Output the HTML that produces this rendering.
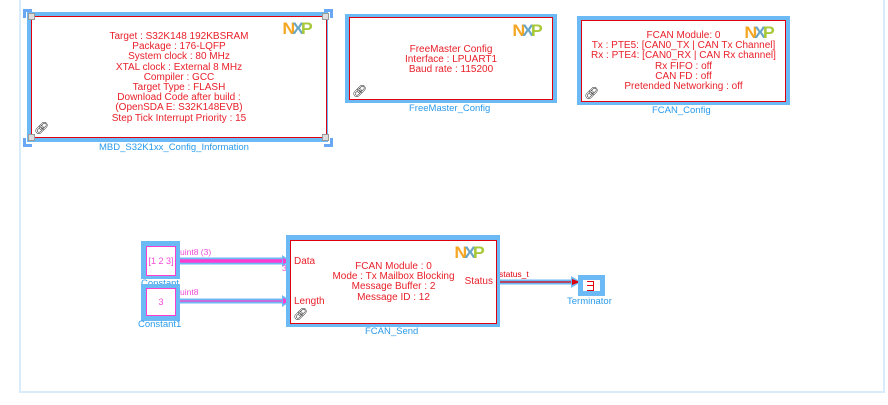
<!DOCTYPE html>
<html><head><meta charset="utf-8"><style>
body{margin:0;width:888px;height:405px;background:#fff;position:relative;overflow:hidden;font-family:"Liberation Sans",sans-serif}
.a{position:absolute}
.blk{position:absolute;background:#6cbaf5}
.in{position:absolute;background:#fff;border:1px solid #e0000d;box-sizing:border-box}
.txt{position:absolute;left:0;right:0;text-align:center;color:#e8202a;font-size:10px;line-height:10.2px}
.lbl{position:absolute;color:#2a9bea;font-size:9.5px;white-space:nowrap}
.nxp{position:absolute;font-weight:bold;font-size:17px;letter-spacing:-3px;line-height:14px;transform:scaleX(1.05)}
.nxp .n{color:#f5a623}.nxp .x{color:#6aa6c6}.nxp .p{color:#a8c93a}
.lk{position:absolute;font-size:12px;color:#222;line-height:12px}
.h{position:absolute;width:5px;height:5px;border:1px solid #999;background:#ddd}
</style></head><body>
<div class="a" style="left:19px;top:0;width:866px;height:393px;border-left:2px solid #d9ecfb;border-right:2px solid #d9ecfb;border-bottom:2px solid #d9ecfb;box-sizing:border-box"></div>

<!-- block1 -->
<div class="a" style="left:23px;top:9px;width:6px;height:6px;border-left:3px solid #6aa8f5;border-top:3px solid #6aa8f5"></div>
<div class="a" style="left:324px;top:9px;width:6px;height:6px;border-right:3px solid #6aa8f5;border-top:3px solid #6aa8f5"></div>
<div class="a" style="left:23px;top:138px;width:6px;height:6px;border-left:3px solid #6aa8f5;border-bottom:3px solid #6aa8f5"></div>
<div class="a" style="left:324px;top:138px;width:6px;height:6px;border-right:3px solid #6aa8f5;border-bottom:3px solid #6aa8f5"></div>
<div class="blk" style="left:27px;top:12px;width:301px;height:130px"></div>
<div class="in" style="left:31px;top:16px;width:296px;height:122px">
<div class="nxp" style="left:251px;top:5px"><span class="n">N</span><span class="x">X</span><span class="p">P</span></div>
<div class="txt" style="top:15px">Target : S32K148 192KBSRAM<br>Package : 176-LQFP<br>System clock : 80 MHz<br>XTAL clock : External 8 MHz<br>Compiler : GCC<br>Target Type : FLASH<br>Download Code after build :<br>(OpenSDA E: S32K148EVB)<br>Step Tick Interrupt Priority : 15</div>
<div class="lk" style="left:2px;top:105px">&#x1F517;&#xFE0E;</div>
</div>
<div class="h" style="left:28px;top:13px"></div><div class="h" style="left:322px;top:13px"></div>
<div class="h" style="left:28px;top:134px"></div><div class="h" style="left:322px;top:134px"></div>
<div class="lbl" style="left:99px;top:142px">MBD_S32K1xx_Config_Information</div>

<!-- block2 -->
<div class="blk" style="left:345px;top:14px;width:212px;height:89px"></div>
<div class="in" style="left:349px;top:17px;width:204px;height:83px">
<div class="nxp" style="left:163px;top:6px"><span class="n">N</span><span class="x">X</span><span class="p">P</span></div>
<div class="txt" style="top:27px">FreeMaster Config<br>Interface : LPUART1<br>Baud rate : 115200</div>
<div class="lk" style="left:2px;top:67px">&#x1F517;&#xFE0E;</div>
</div>
<div class="lbl" style="left:409px;top:103px">FreeMaster_Config</div>

<!-- block3 -->
<div class="blk" style="left:577px;top:16px;width:213px;height:89px"></div>
<div class="in" style="left:581px;top:20px;width:205px;height:82px">
<div class="nxp" style="left:163px;top:5px"><span class="n">N</span><span class="x">X</span><span class="p">P</span></div>
<div class="txt" style="top:10px">FCAN Module: 0<br>Tx : PTE5: [CAN0_TX | CAN Tx Channel]<br>Rx : PTE4: [CAN0_RX | CAN Rx channel]<br>Rx FIFO : off<br>CAN FD : off<br>Pretended Networking : off</div>
<div class="lk" style="left:2px;top:66px">&#x1F517;&#xFE0E;</div>
</div>
<div class="lbl" style="left:652px;top:105px">FCAN_Config</div>

<!-- lines -->
<svg class="a" style="left:0;top:0" width="888" height="405">
<line x1="178" y1="261" x2="284" y2="261" stroke="#6cbaf5" stroke-width="7"/>
<line x1="178" y1="261" x2="284" y2="261" stroke="#ff3ccf" stroke-width="3.5"/>
<polygon points="282,255 291,261 282,267" fill="#6cbaf5"/><polygon points="283,258 290,261 283,264" fill="#ff3ccf"/>
<line x1="178" y1="301" x2="284" y2="301" stroke="#6cbaf5" stroke-width="5"/>
<line x1="178" y1="301" x2="284" y2="301" stroke="#ff3ccf" stroke-width="1.2"/>
<polygon points="282,295 291,301 282,307" fill="#6cbaf5"/><polygon points="283,298 290,301 283,304" fill="#ff3ccf"/>
<line x1="497" y1="282" x2="572" y2="282" stroke="#6cbaf5" stroke-width="5"/>
<line x1="497" y1="282" x2="572" y2="282" stroke="#e0000d" stroke-width="1.2"/>
<polygon points="571,276 581,282 571,288" fill="#6cbaf5"/><polygon points="572,279 580,282 572,285" fill="#e0000d"/>
</svg>
<div class="a" style="left:180px;top:247px;color:#f04ad6;font-size:8.5px">uint8 (3)</div>
<div class="a" style="left:180px;top:287px;color:#f04ad6;font-size:8.5px">uint8</div>
<div class="a" style="left:282px;top:263px;color:#f04ad6;font-size:8.5px">3</div>
<div class="a" style="left:499px;top:269px;color:#e0000d;font-size:8.5px">status_t</div>

<!-- constants -->
<div class="blk" style="left:141px;top:241px;width:39px;height:38px"></div>
<div class="a" style="left:146px;top:246px;width:30px;height:30px;background:#fff;border:1px solid #ff3ccf;box-sizing:border-box;color:#f04ad6;font-size:9px;text-align:center;line-height:28px">[1 2 3]</div>
<div class="lbl" style="left:141px;top:278px">Constant</div>
<div class="blk" style="left:141px;top:284px;width:39px;height:37px"></div>
<div class="a" style="left:146px;top:288px;width:30px;height:28px;background:#fff;border:1px solid #ff3ccf;box-sizing:border-box;color:#f04ad6;font-size:9px;text-align:center;line-height:26px">3</div>
<div class="lbl" style="left:138px;top:319px">Constant1</div>

<!-- FCAN_Send -->
<div class="blk" style="left:286px;top:235px;width:214px;height:92px"></div>
<div class="in" style="left:290px;top:240px;width:207px;height:84px">
<div class="nxp" style="left:164px;top:5px"><span class="n">N</span><span class="x">X</span><span class="p">P</span></div>
<div class="txt" style="top:21px">FCAN Module : 0<br>Mode : Tx Mailbox Blocking<br>Message Buffer : 2<br>Message ID : 12</div>
<div class="a" style="left:3px;top:15px;color:#e8202a;font-size:10px">Data</div>
<div class="a" style="left:3px;top:55px;color:#e8202a;font-size:10px">Length</div>
<div class="a" style="right:3px;top:35px;color:#e8202a;font-size:10px">Status</div>
<div class="lk" style="left:2px;top:67px">&#x1F517;&#xFE0E;</div>
</div>
<div class="lbl" style="left:365px;top:326px">FCAN_Send</div>

<!-- Terminator -->
<div class="blk" style="left:578px;top:275px;width:27px;height:21px"></div>
<div class="a" style="left:583px;top:280px;width:17px;height:11px;background:#fff"></div>
<div class="a" style="left:587px;top:281px;width:6px;height:8px;border:1px solid #e0000d;border-left:none"></div>
<div class="a" style="left:587px;top:285px;width:6px;height:1px;background:#e0000d"></div>
<div class="lbl" style="left:567px;top:296px">Terminator</div>
</body></html>
